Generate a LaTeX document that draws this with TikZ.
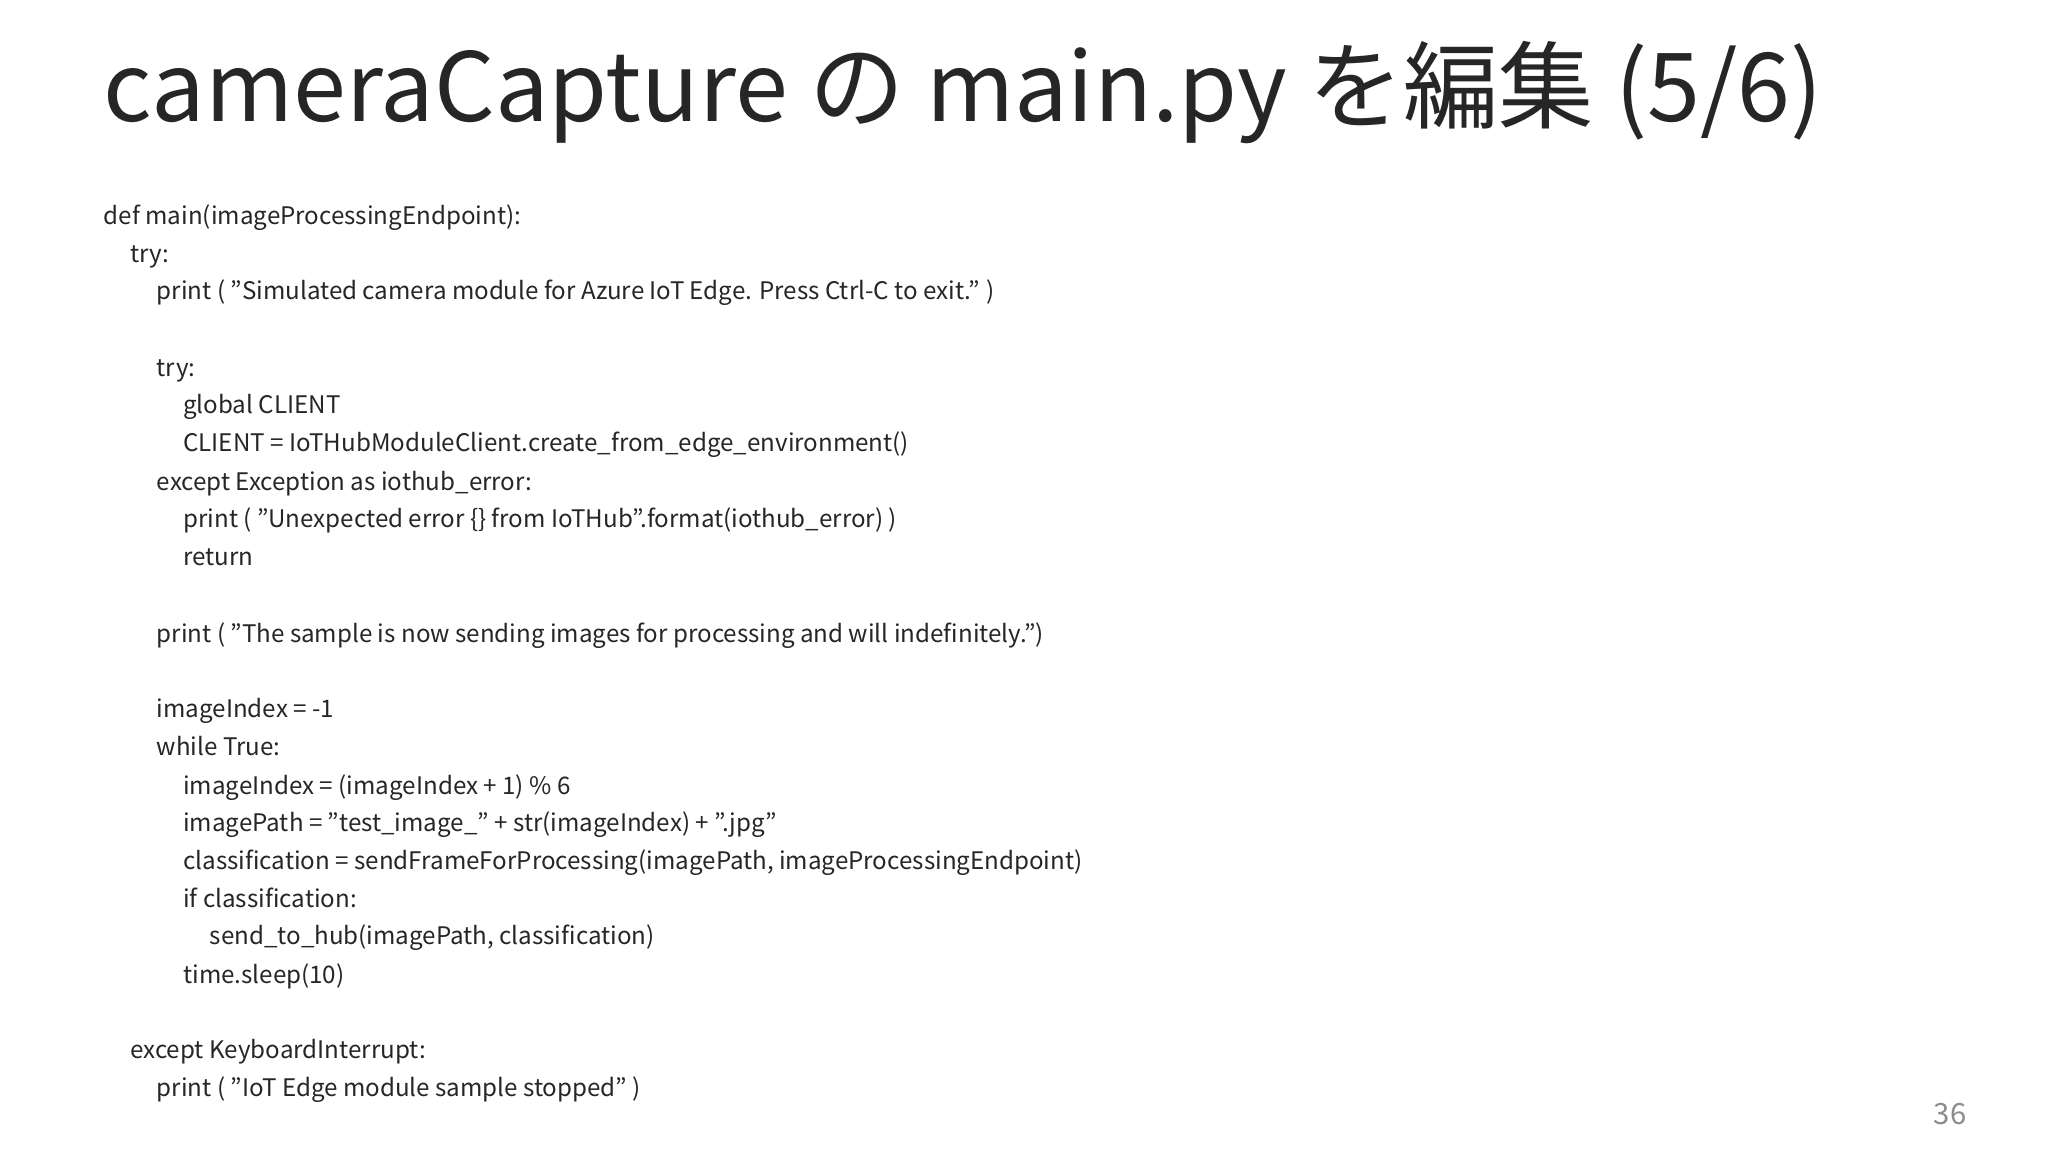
\documentclass[tikz,border=0pt]{standalone}
\usepackage{fontspec}
\setmainfont{Noto Sans CJK JP}
\begin{document}
\begin{tikzpicture}[x=0.01cm,y=-0.01cm,
  code/.style={anchor=base west,inner sep=0pt,font=\fontsize{5.2pt}{6pt}\selectfont,text=black!85},
  ttl/.style={anchor=base west,inner sep=0pt,font=\fontsize{20.5pt}{24pt}\selectfont,text=black!85}]
\useasboundingbox[fill=white] (0,0) rectangle (1550,872);
\node[ttl] (title) at (78,92) {cameraCapture の main.py を編集 (5/6)};
\node[code] (l1) at (78,170) {def main(imageProcessingEndpoint):};
\node[code] (l2) at (98,199) {try:};
\node[code] (l3) at (118,227) {print ( ”Simulated camera module for Azure IoT Edge. Press Ctrl-C to exit.” )};
\node[code] (l4) at (118,285) {try:};
\node[code] (l5) at (138,313) {global CLIENT};
\node[code] (l6) at (138,342) {CLIENT = IoTHubModuleClient.create\_from\_edge\_environment()};
\node[code] (l7) at (118,371) {except Exception as iothub\_error:};
\node[code] (l8) at (138,399) {print ( ”Unexpected error \{\} from IoTHub”.format(iothub\_error) )};
\node[code] (l9) at (138,428) {return};
\node[code] (l10) at (118,486) {print ( ”The sample is now sending images for processing and will indefinitely.”)};
\node[code] (l11) at (118,543) {imageIndex = -1};
\node[code] (l12) at (118,572) {while True:};
\node[code] (l13) at (138,601) {imageIndex = (imageIndex + 1) \% 6};
\node[code] (l14) at (138,629) {imagePath = ”test\_image\_” + str(imageIndex) + ”.jpg”};
\node[code] (l15) at (138,658) {classification = sendFrameForProcessing(imagePath, imageProcessingEndpoint)};
\node[code] (l16) at (138,687) {if classification:};
\node[code] (l17) at (158,715) {send\_to\_hub(imagePath, classification)};
\node[code] (l18) at (138,744) {time.sleep(10)};
\node[code] (l19) at (98,801) {except KeyboardInterrupt:};
\node[code] (l20) at (118,830) {print ( ”IoT Edge module sample stopped” )};
\node[anchor=base east,inner sep=0pt,font=\fontsize{6.3pt}{7pt}\selectfont,text=black!45] (pg) at (1489,851) {36};
\end{tikzpicture}
\end{document}
